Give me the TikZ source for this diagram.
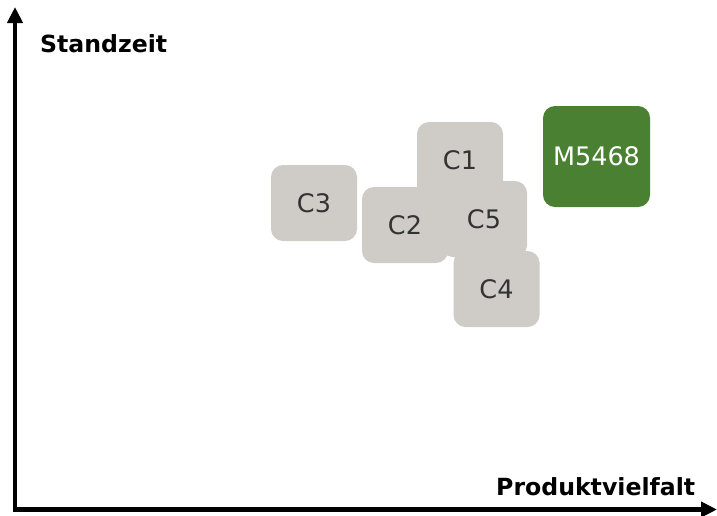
\documentclass[tikz,border=0pt]{standalone}
\usepackage{fontspec}
\setmainfont{DejaVu Sans}
\usetikzlibrary{arrows.meta}
\definecolor{boxgray}{RGB}{207,204,200}
\definecolor{boxgreen}{RGB}{74,128,50}
\definecolor{txtgray}{RGB}{51,51,51}
\begin{document}
\begin{tikzpicture}[x=1pt,y=-1pt,
  cbox/.style={fill=boxgray, rounded corners=12pt, minimum width=86pt, minimum height=76pt, inner sep=0pt, text=txtgray, font=\fontsize{25.5}{29}\selectfont},
  mbox/.style={fill=boxgreen, rounded corners=12pt, minimum width=107pt, minimum height=101pt, inner sep=0pt, text=white, font=\fontsize{25.5}{29}\selectfont},
  axislabel/.style={font=\fontsize{23.6}{27}\selectfont\bfseries, inner sep=0pt, anchor=base west},
  axis/.style={line width=4.5pt, -{Triangle[length=16pt,width=15pt]}}]
\useasboundingbox (0,0) rectangle (717,515);
\coordinate (O) at (15,509.5);
\coordinate (ytop) at (15,7);
\coordinate (xend) at (717,509.5);
\coordinate (Ocorner) at (12.8,509.5);
\draw[axis] (15,511.7) -- (ytop);
\draw[axis] (Ocorner) -- (xend);
\node[axislabel] (ylab) at (40,52) {Standzeit};
\node[axislabel] (xlab) at (496,495) {Produktvielfalt};
\node[cbox] (c3) at (314,203) {C3};
\node[cbox] (c1) at (460,160) {C1};
\node[cbox] (c5) at (484,219) {C5};
\node[cbox] (c2) at (405,225) {C2};
\node[cbox] (c4) at (496.5,289) {C4};
\node[mbox] (m) at (596.5,156.5) {M5468};
\end{tikzpicture}
\end{document}
